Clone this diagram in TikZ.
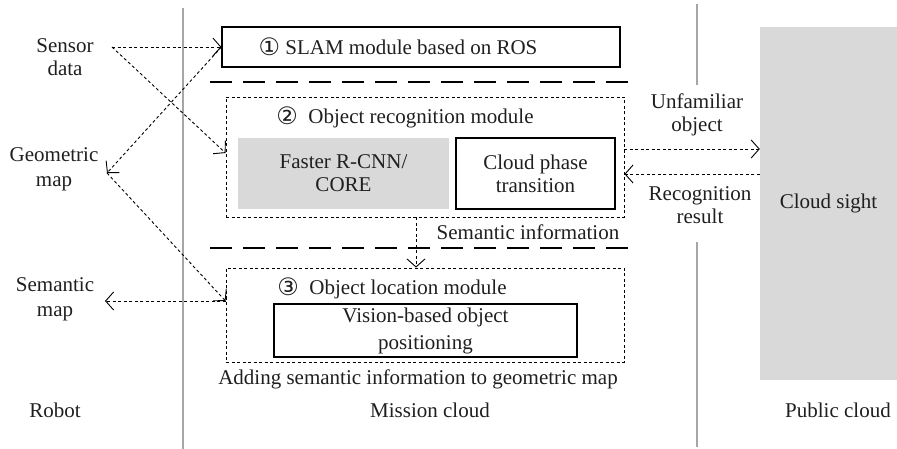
\documentclass[tikz,border=0pt]{standalone}
\usepackage{fontspec}
\setmainfont{Liberation Serif}
\newfontfamily\circfont{DejaVu Sans}
\usetikzlibrary{arrows.meta,positioning}
\newcommand{\cnum}[1]{{\circfont\fontsize{24}{23}\selectfont\raisebox{-1pt}{#1}}}

\begin{document}
\begin{tikzpicture}[x=1pt,y=-1pt,
  lab/.style={font=\fontsize{21}{23}\selectfont,align=center,inner sep=0pt,text=black!88},
  box/.style={draw,line width=1.1pt,inner sep=0pt,lab},
  gbox/.style={fill=black!15,inner sep=0pt,lab},
  dotbox/.style={draw,line width=0.9pt,dash pattern=on 3pt off 2.5pt,inner sep=0pt},
  ar/.style={-{Straight Barb[length=8pt,width=18pt]},line width=0.9pt,dash pattern=on 3pt off 2.5pt},
  divider/.style={line width=1.1pt,dash pattern=on 22pt off 11pt},
  sep/.style={black!35,line width=1.2pt}]

\useasboundingbox (0,0) rectangle (897,449);

% column separators
\draw[sep] (183,8) -- (183,449);
\draw[sep] (697,4) -- (697,85);
\draw[sep] (697,242) -- (697,447);

% mission cloud
\node[box,minimum width=398pt,minimum height=40pt] (slam) at (421,47) {};
\node[lab] (slamt) at (398,47) {\cnum{①} SLAM module based on ROS};
\draw[divider] (210,82) -- (633,82);

\node[dotbox,minimum width=398pt,minimum height=120pt] (recog) at (425,157) {};
\node[lab] (recogt) at (405,117) {\cnum{②}\hspace{0.5em}Object recognition module};
\node[gbox,minimum width=211pt,minimum height=71pt] (faster) at (343.5,173.5) {Faster R-CNN/\\CORE};
\node[box,minimum width=159pt,minimum height=71pt] (cpt) at (535.5,173.5) {Cloud phase\\transition};

\draw[divider] (210,248) -- (633,248);
\node[lab] (seminfo) at (528,232) {Semantic information};

\node[dotbox,minimum width=398pt,minimum height=94pt] (locate) at (425,315) {};
\node[lab] (locatet) at (392,288) {\cnum{③}\hspace{0.5em}Object location module};
\node[box,minimum width=303pt,minimum height=53pt,font=\fontsize{21}{27}\selectfont] (vision) at (425.5,330.5)
  {Vision-based object\\positioning};
\node[lab] (adding) at (418,379) {Adding semantic information to geometric map};

% robot side
\node[lab] (sensor) at (65,57) {Sensor\\data};
\node[lab,font=\fontsize{21}{25}\selectfont] (geom) at (54,169) {Geometric\\map};
\node[lab,font=\fontsize{21}{25}\selectfont] (semmap) at (55,299) {Semantic\\map};

% public cloud
\node[gbox,minimum width=137pt,minimum height=353pt] (cloud) at (828.5,203.5) {Cloud sight};
\node[lab] (unfam) at (697,115) {Unfamiliar\\object};
\node[lab] (recres) at (700,205) {Recognition\\result};

% column titles
\node[lab] (robot) at (55,410) {Robot};
\node[lab] (mission) at (430,410) {Mission cloud};
\node[lab] (public) at (838,410) {Public cloud};

% connector ends
\coordinate (sensorout) at (112,47);
\coordinate (geomin) at (107,173);
\coordinate (semin) at (105,301);
\coordinate (locin) at ([yshift=14pt]locate.west);
\coordinate (uo) at ([yshift=8pt]recog.east);
\coordinate (rr) at ([yshift=-17pt]recog.east);

\draw[ar] (sensorout) -- (slam.west);
\draw[ar] (sensorout) -- ([yshift=4pt]recog.west);
\draw[ar] (slam.west) -- (geomin);
\draw[ar] (geomin) -- (locin);
\draw[ar] (locin) -- (semin);
\draw[ar] ([xshift=-9pt]recog.south) -- ([xshift=-9pt]locate.north);
\draw[ar] (uo) -- (uo -| cloud.west);
\draw[ar] (rr -| cloud.west) -- (rr);
\end{tikzpicture}
\end{document}
